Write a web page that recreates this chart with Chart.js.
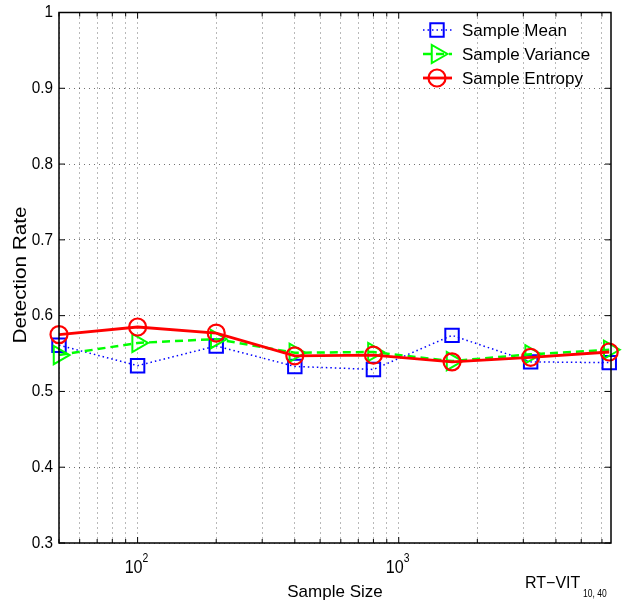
<!DOCTYPE html>
<html>
<head>
<meta charset="utf-8">
<script src="https://cdn.jsdelivr.net/npm/chart.js@4"></script>
<style>
  html, body { margin: 0; padding: 0; background: #fff; }
  #wrap { width: 627px; height: 603px; }
</style>
</head>
<body>
<div id="wrap"><canvas id="chart" width="627" height="603"></canvas></div>
<script>
// data
const sampleSizes = [50, 100, 200, 400, 800, 1600, 3200, 6400];
const meanRate = [0.561, 0.534, 0.560, 0.533, 0.529, 0.574, 0.539, 0.538];
const varianceRate = [0.548, 0.564, 0.569, 0.551, 0.552, 0.540, 0.549, 0.555];
const entropyRate = [0.575, 0.585, 0.577, 0.547, 0.548, 0.539, 0.545, 0.552];

const seriesNames = ['Sample Mean', 'Sample Variance', 'Sample Entropy'];
const xGridTicks = [50, 60, 70, 80, 90, 100, 200, 300, 400, 500, 600, 700, 800, 900,
    1000, 2000, 3000, 4000, 5000, 6000];
const xDecades = [100, 1000];
const yTicks = [0.3, 0.4, 0.5, 0.6, 0.7, 0.8, 0.9, 1];
const yTickLabels = ['0.3', '0.4', '0.5', '0.6', '0.7', '0.8', '0.9', '1'];

const FONT = '"Liberation Sans", Arial, Helvetica, sans-serif';

function pts(ys) {
    return sampleSizes.map((x, i) => ({ x: x, y: ys[i] }));
}

const datasets = [
    {
        label: seriesNames[0],
        data: pts(meanRate),
        borderColor: '#0000ff',
        borderWidth: 1.5,
        borderDash: [1.5, 3],
        pointStyle: 'rect',
        pointRadius: 9.5,
        pointBorderWidth: 2,
        pointBackgroundColor: 'rgba(0,0,0,0)',
        pointBorderColor: '#0000ff',
        order: 3
    },
    {
        label: seriesNames[1],
        data: pts(varianceRate),
        borderColor: '#00ff00',
        borderWidth: 2.5,
        borderDash: [8, 5],
        pointStyle: 'triangle',
        pointRotation: 90,
        pointRadius: 10.5,
        pointBorderWidth: 2,
        pointBackgroundColor: 'rgba(0,0,0,0)',
        pointBorderColor: '#00ff00',
        order: 2
    },
    {
        label: seriesNames[2],
        data: pts(entropyRate),
        borderColor: '#ff0000',
        borderWidth: 2.8,
        pointStyle: 'circle',
        pointRadius: 8.5,
        pointBorderWidth: 2.2,
        pointBackgroundColor: 'rgba(0,0,0,0)',
        pointBorderColor: '#ff0000',
        order: 1
    }
];
datasets.forEach(d => { d.tension = 0; d.fill = false; d.clip = false; });

// text with a horizontal squeeze/stretch (matlab's helvetica looks narrower)
function text(ctx, s, x, y, sx) {
    ctx.save();
    ctx.translate(x, y);
    ctx.scale(sx, 1);
    ctx.fillText(s, 0, 0);
    ctx.restore();
}

// axes text, box, inner ticks and legend drawn like the matlab figure
const matlabDecor = {
    id: 'matlabDecor',
    afterDraw(chart) {
        const ctx = chart.ctx;
        const a = chart.chartArea;
        const xs = chart.scales.x;
        const ys = chart.scales.y;
        ctx.save();

        // box
        ctx.strokeStyle = '#000';
        ctx.lineWidth = 1.5;
        ctx.setLineDash([]);
        ctx.strokeRect(a.left, a.top, a.right - a.left, a.bottom - a.top);

        // inner tick marks
        ctx.lineWidth = 1;
        ctx.beginPath();
        xGridTicks.forEach(v => {
            const px = xs.getPixelForValue(v);
            const len = xDecades.includes(v) ? 6 : 4;
            ctx.moveTo(px, a.bottom); ctx.lineTo(px, a.bottom - len);
            ctx.moveTo(px, a.top); ctx.lineTo(px, a.top + len);
        });
        yTicks.forEach(v => {
            const py = ys.getPixelForValue(v);
            ctx.moveTo(a.left, py); ctx.lineTo(a.left + 6, py);
            ctx.moveTo(a.right, py); ctx.lineTo(a.right - 6, py);
        });
        ctx.stroke();

        ctx.fillStyle = '#000';
        // y tick labels
        ctx.font = '17px ' + FONT;
        ctx.textAlign = 'right';
        ctx.textBaseline = 'middle';
        yTicks.forEach((v, i) => {
            text(ctx, yTickLabels[i], a.left - 6, ys.getPixelForValue(v), 0.9);
        });

        // x decade labels 10^n
        ctx.textBaseline = 'alphabetic';
        xDecades.forEach(v => {
            const px = xs.getPixelForValue(v);
            ctx.font = '19px ' + FONT;
            ctx.textAlign = 'right';
            text(ctx, '10', px + 5, a.bottom + 30, 0.85);
            ctx.font = '13px ' + FONT;
            ctx.textAlign = 'left';
            text(ctx, String(Math.round(Math.log10(v))), px + 5, a.bottom + 19, 0.8);
        });

        // axis titles
        ctx.font = '17px ' + FONT;
        ctx.textAlign = 'center';
        ctx.fillText('Sample Size', (a.left + a.right) / 2, a.bottom + 54);
        ctx.save();
        ctx.translate(a.left - 33, 275);
        ctx.rotate(-Math.PI / 2);
        ctx.font = '18px ' + FONT;
        text(ctx, 'Detection Rate', 0, 0, 1.15);
        ctx.restore();

        // figure note
        ctx.textAlign = 'left';
        ctx.font = '16px ' + FONT;
        text(ctx, 'RT\u2212VIT', 525, 588, 1);
        ctx.font = '10px ' + FONT;
        text(ctx, '10, 40', 583, 597, 0.85);

        // legend
        const rows = [30, 54, 78];
        datasets.forEach((d, i) => {
            const y = rows[i];
            ctx.strokeStyle = d.borderColor;
            ctx.lineWidth = d.borderWidth;
            ctx.setLineDash(d.borderDash || []);
            ctx.beginPath();
            ctx.moveTo(423, y); ctx.lineTo(452, y);
            ctx.stroke();
            ctx.setLineDash([]);
            ctx.lineWidth = d.pointBorderWidth;
            ctx.fillStyle = 'rgba(0,0,0,0)';
            Chart.helpers.drawPoint(ctx, {
                pointStyle: d.pointStyle,
                rotation: d.pointRotation || 0,
                radius: d.pointRadius,
                borderWidth: d.pointBorderWidth
            }, 437, y);
            ctx.fillStyle = '#000';
            ctx.font = '17px ' + FONT;
            ctx.textAlign = 'left';
            ctx.textBaseline = 'middle';
            ctx.fillText(d.label, 462, y + 1);
        });
        ctx.restore();
    }
};

new Chart(document.getElementById('chart'), {
    type: 'line',
    data: { datasets: datasets },
    options: {
        responsive: false,
        animation: false,
        events: [],
        layout: { padding: { left: 59, top: 8, right: 16, bottom: 60 } },
        plugins: { legend: { display: false }, tooltip: { enabled: false } },
        scales: {
            x: {
                type: 'logarithmic',
                min: 50,
                max: 6500,
                afterBuildTicks: s => { s.ticks = xGridTicks.map(v => ({ value: v })); },
                ticks: { display: false },
                grid: { color: 'rgba(0,0,0,0.55)', lineWidth: 1, drawTicks: false },
                border: { display: false, dash: [1, 4] }
            },
            y: {
                min: 0.3,
                max: 1,
                afterBuildTicks: s => { s.ticks = yTicks.map(v => ({ value: v })); },
                ticks: { display: false },
                grid: { color: 'rgba(0,0,0,0.55)', lineWidth: 1, drawTicks: false },
                border: { display: false, dash: [1, 4] }
            }
        }
    },
    plugins: [matlabDecor]
});
</script>
</body>
</html>
